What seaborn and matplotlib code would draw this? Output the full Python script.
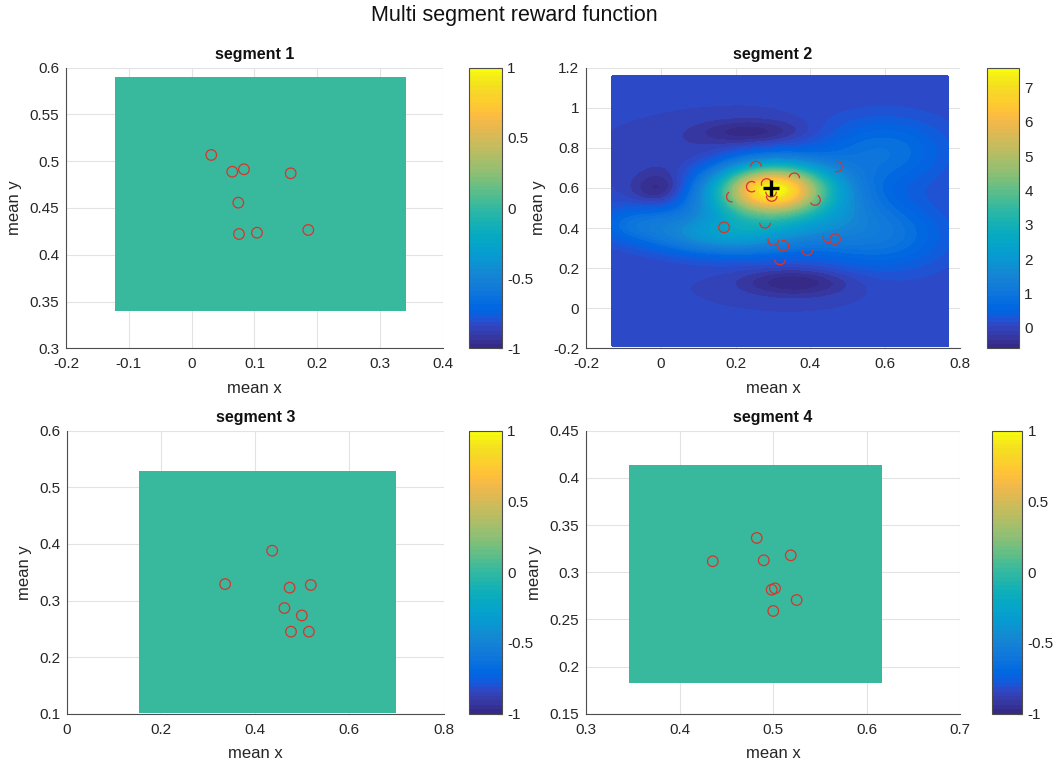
import numpy as np
import pandas as pd
import matplotlib
matplotlib.use("Agg")
import matplotlib.pyplot as plt
import seaborn as sns
from matplotlib.colors import ListedColormap, Normalize
from matplotlib.cm import ScalarMappable
from matplotlib.path import Path
from matplotlib.ticker import FormatStrFormatter, MultipleLocator

# ---------------------------------------------------------------- data
# segment 1
seg1_x = [0.0312, 0.0646, 0.0832, 0.1576, 0.0742, 0.0753, 0.1039, 0.1856]
seg1_y = [0.5067, 0.4888, 0.4914, 0.4871, 0.4557, 0.4222, 0.4236, 0.4265]
seg1_xrange = [-0.122, 0.341]
seg1_yrange = [0.340, 0.590]

# segment 2
seg2_x = [0.2545, 0.4706, 0.357, 0.243, 0.283, 0.2947, 0.2965, 0.1896, 0.4123,
          0.2786, 0.169, 0.3008, 0.3275, 0.3917, 0.4658, 0.4479, 0.3187]
seg2_y = [0.7065, 0.7065, 0.6485, 0.6065, 0.62, 0.5815, 0.56, 0.5565, 0.54,
          0.4265, 0.4035, 0.34, 0.3115, 0.29, 0.345, 0.3535, 0.2435]
seg2_best = [0.295, 0.60]
seg2_xrange = [-0.1305, 0.768]
seg2_yrange = [-0.19, 1.159]
# reward surface of segment 2 as a sum of gaussian kernels
kern_cx = [0.30, 0.28, 0.15, -0.06, 0.60, 0.60, 0.48, 0.00, 0.24, 0.36, 0.10]
kern_cy = [0.60, 0.46, 0.36, 0.42, 0.78, 0.36, 0.55, 0.59, 0.88, 0.13, 0.76]
kern_amp = [6.6, 2.0, 1.2, 0.7, 0.85, 0.85, 0.35, -0.7, -0.55, -0.64, -0.15]
kern_sx = [0.10, 0.16, 0.12, 0.08, 0.12, 0.12, 0.08, 0.055, 0.10, 0.10, 0.12]
kern_sy = [0.085, 0.11, 0.06, 0.06, 0.12, 0.12, 0.15, 0.065, 0.045, 0.05, 0.08]

# segment 3
seg3_x = [0.436, 0.336, 0.473, 0.518, 0.462, 0.499, 0.476, 0.514]
seg3_y = [0.388, 0.329, 0.3227, 0.3274, 0.2867, 0.2736, 0.2449, 0.2449]
seg3_xrange = [0.154, 0.6995]
seg3_yrange = [0.102, 0.529]

# segment 4
seg4_x = [0.4826, 0.4356, 0.4901, 0.5190, 0.4986, 0.5021, 0.5253, 0.5003]
seg4_y = [0.3363, 0.3116, 0.3126, 0.3179, 0.2814, 0.2829, 0.2705, 0.2589]
seg4_xrange = [0.3463, 0.6162]
seg4_yrange = [0.1822, 0.4133]

# visible part (degrees) of each sample marker sitting on the segment-2 surface
seg2_arcs = [(0, 180), (-110, 110), (0, 170), (50, 310), (-20, 200), (180, 360),
             (180, 360), (120, 280), (-150, 60), (180, 360), (0, 360), (160, 360),
             (-180, 110), (180, 360), (0, 360), (150, 290), (180, 360)]

# ---------------------------------------------------------------- colormap
PARULA = [
    [0.2081, 0.1663, 0.5292], [0.2116, 0.1898, 0.5777], [0.2123, 0.2138, 0.6270],
    [0.2081, 0.2386, 0.6771], [0.1959, 0.2645, 0.7279], [0.1707, 0.2919, 0.7792],
    [0.1253, 0.3242, 0.8303], [0.0591, 0.3598, 0.8683], [0.0117, 0.3875, 0.8820],
    [0.0060, 0.4086, 0.8828], [0.0165, 0.4266, 0.8786], [0.0329, 0.4430, 0.8720],
    [0.0498, 0.4586, 0.8641], [0.0629, 0.4737, 0.8554], [0.0723, 0.4887, 0.8467],
    [0.0779, 0.5040, 0.8384], [0.0793, 0.5200, 0.8312], [0.0749, 0.5375, 0.8263],
    [0.0641, 0.5570, 0.8240], [0.0488, 0.5772, 0.8228], [0.0343, 0.5966, 0.8199],
    [0.0265, 0.6137, 0.8135], [0.0239, 0.6287, 0.8038], [0.0231, 0.6418, 0.7913],
    [0.0228, 0.6535, 0.7768], [0.0267, 0.6642, 0.7607], [0.0384, 0.6743, 0.7436],
    [0.0590, 0.6838, 0.7254], [0.0843, 0.6928, 0.7062], [0.1133, 0.7015, 0.6859],
    [0.1453, 0.7098, 0.6646], [0.1801, 0.7177, 0.6424], [0.2178, 0.7250, 0.6193],
    [0.2586, 0.7317, 0.5954], [0.3022, 0.7376, 0.5712], [0.3482, 0.7424, 0.5473],
    [0.3953, 0.7459, 0.5244], [0.4420, 0.7481, 0.5033], [0.4871, 0.7491, 0.4840],
    [0.5300, 0.7491, 0.4661], [0.5709, 0.7485, 0.4494], [0.6099, 0.7473, 0.4337],
    [0.6473, 0.7456, 0.4188], [0.6834, 0.7435, 0.4044], [0.7184, 0.7411, 0.3905],
    [0.7525, 0.7384, 0.3768], [0.7858, 0.7356, 0.3633], [0.8185, 0.7327, 0.3498],
    [0.8507, 0.7299, 0.3360], [0.8824, 0.7274, 0.3217], [0.9139, 0.7258, 0.3063],
    [0.9450, 0.7261, 0.2886], [0.9739, 0.7314, 0.2666], [0.9938, 0.7455, 0.2403],
    [0.9990, 0.7653, 0.2164], [0.9955, 0.7861, 0.1967], [0.9880, 0.8066, 0.1794],
    [0.9789, 0.8271, 0.1633], [0.9697, 0.8481, 0.1475], [0.9626, 0.8705, 0.1309],
    [0.9589, 0.8949, 0.1132], [0.9598, 0.9218, 0.0948], [0.9661, 0.9514, 0.0755],
    [0.9763, 0.9831, 0.0538]]
parula = ListedColormap(PARULA, name="parula")

# ---------------------------------------------------------------- style
sns.set_theme(style="white")
TXT = "#262626"
plt.rcParams.update({
    "font.family": ["Liberation Sans", "DejaVu Sans"],
    "axes.unicode_minus": False,
    "axes.edgecolor": "#4d4d4d",
    "axes.linewidth": 0.8,
    "axes.labelcolor": TXT,
    "xtick.color": "#4d4d4d",
    "ytick.color": "#4d4d4d",
    "xtick.labelcolor": TXT,
    "ytick.labelcolor": TXT,
    "xtick.direction": "in",
    "ytick.direction": "in",
    "xtick.major.size": 3.5,
    "ytick.major.size": 3.5,
    "xtick.major.width": 0.8,
    "ytick.major.width": 0.8,
    "xtick.labelsize": 11,
    "ytick.labelsize": 11,
    "axes.labelsize": 12,
})

W, H = 1058, 764
fig = plt.figure(figsize=(W / 100, H / 100), dpi=100)


def px_rect(l, r, t, b):
    return [l / W, 1 - b / H, (r - l) / W, (b - t) / H]


MARKER_RED = "#d9342b"


def style_axes(ax, xlim, ylim, xstep, ystep, title):
    ax.set_xlim(*xlim)
    ax.set_ylim(*ylim)
    ax.xaxis.set_major_locator(MultipleLocator(xstep))
    ax.yaxis.set_major_locator(MultipleLocator(ystep))
    ax.xaxis.set_major_formatter(FormatStrFormatter("%g"))
    ax.yaxis.set_major_formatter(FormatStrFormatter("%g"))
    ax.grid(True, color="#e3e3e3", linewidth=0.8)
    ax.set_axisbelow(True)
    for side in ("top", "right"):
        ax.spines[side].set_visible(False)
    ax.tick_params(axis="x", pad=6.5)
    ax.tick_params(axis="y", pad=5)
    ax.set_xlabel("mean x", labelpad=7)
    ax.set_ylabel("mean y", labelpad=5)
    ax.set_title(title, fontsize=11.5, fontweight="bold", color="#111111", pad=6)


def style_cbar(cax, mappable, ticks):
    cb = fig.colorbar(mappable, cax=cax, ticks=ticks)
    cb.ax.yaxis.set_major_formatter(FormatStrFormatter("%g"))
    cb.ax.tick_params(direction="in", length=3.5, width=0.8, labelsize=11,
                      color="#4d4d4d", labelcolor=TXT, pad=4)
    cb.outline.set_edgecolor("#4d4d4d")
    cb.outline.set_linewidth(0.8)
    return cb


def flat_segment(ax, cax, xr, yr, px, py):
    xe = np.array(xr)
    ye = np.array(yr)
    ax.pcolormesh(xe, ye, np.zeros((1, 1)), cmap=parula, vmin=-1, vmax=1,
                  shading="flat", zorder=1)
    sns.scatterplot(x=px, y=py, ax=ax, marker="o", s=58, facecolors="none",
                    edgecolor=MARKER_RED, linewidth=0.9, zorder=3, legend=False)
    sm = ScalarMappable(norm=Normalize(-1, 1), cmap=parula)
    style_cbar(cax, sm, [-1, -0.5, 0, 0.5, 1])


# ---------------------------------------------------------------- segment 1
ax1 = fig.add_axes(px_rect(66, 443, 67.7, 348.3))
cax1 = fig.add_axes(px_rect(469.3, 501.7, 67.7, 348.3))
flat_segment(ax1, cax1, seg1_xrange, seg1_yrange, seg1_x, seg1_y)
style_axes(ax1, (-0.2, 0.4), (0.3, 0.6), 0.1, 0.05, "segment 1")

# ---------------------------------------------------------------- segment 2
ax2 = fig.add_axes(px_rect(586, 960, 67.7, 348.3))
cax2 = fig.add_axes(px_rect(986.7, 1018.7, 67.7, 348.3))
gx = np.linspace(seg2_xrange[0], seg2_xrange[1], 360)
gy = np.linspace(seg2_yrange[0], seg2_yrange[1], 360)
GX, GY = np.meshgrid(gx, gy)
Z = np.zeros_like(GX)
for cx, cy, a, sx, sy in zip(kern_cx, kern_cy, kern_amp, kern_sx, kern_sy):
    Z += a * np.exp(-((GX - cx) ** 2) / (2 * sx ** 2) - ((GY - cy) ** 2) / (2 * sy ** 2))
zmin, zmax = Z.min(), Z.max()
ax2.contourf(GX, GY, Z, levels=np.linspace(zmin, zmax, 56), cmap=parula,
             vmin=zmin, vmax=zmax, zorder=1)

arc_names = [f"a{i}" for i in range(len(seg2_x))]
arc_markers = {n: Path.arc(t1, t2) for n, (t1, t2) in zip(arc_names, seg2_arcs)}
seg2_df = pd.DataFrame({"x": seg2_x, "y": seg2_y, "arc": arc_names})
sns.scatterplot(data=seg2_df, x="x", y="y", style="arc", markers=arc_markers,
                ax=ax2, s=58, facecolors="none", edgecolor=MARKER_RED,
                linewidth=0.9, zorder=3, legend=False)
ax2.plot([seg2_best[0]], [seg2_best[1]], marker="+", color="black",
         markersize=11, markeredgewidth=2.4, linestyle="none", zorder=4)
sm2 = ScalarMappable(norm=Normalize(zmin, zmax), cmap=parula)
style_cbar(cax2, sm2, list(range(0, 8)))
style_axes(ax2, (-0.2, 0.8), (-0.2, 1.2), 0.2, 0.2, "segment 2")

# ---------------------------------------------------------------- segment 3
ax3 = fig.add_axes(px_rect(67, 443.5, 430.7, 713.7))
cax3 = fig.add_axes(px_rect(469.2, 501.7, 430.7, 713.7))
flat_segment(ax3, cax3, seg3_xrange, seg3_yrange, seg3_x, seg3_y)
style_axes(ax3, (0, 0.8), (0.1, 0.6), 0.2, 0.1, "segment 3")

# ---------------------------------------------------------------- segment 4
ax4 = fig.add_axes(px_rect(586, 960, 430.7, 713.7))
cax4 = fig.add_axes(px_rect(991.7, 1022.3, 430.7, 713.7))
flat_segment(ax4, cax4, seg4_xrange, seg4_yrange, seg4_x, seg4_y)
style_axes(ax4, (0.3, 0.7), (0.15, 0.45), 0.1, 0.05, "segment 4")

fig.text(514 / W, 1 - 15 / H, "Multi segment reward function", ha="center",
         va="center", fontsize=15.5, color="#111111")

fig.savefig("out.png", dpi=100, facecolor="white")
